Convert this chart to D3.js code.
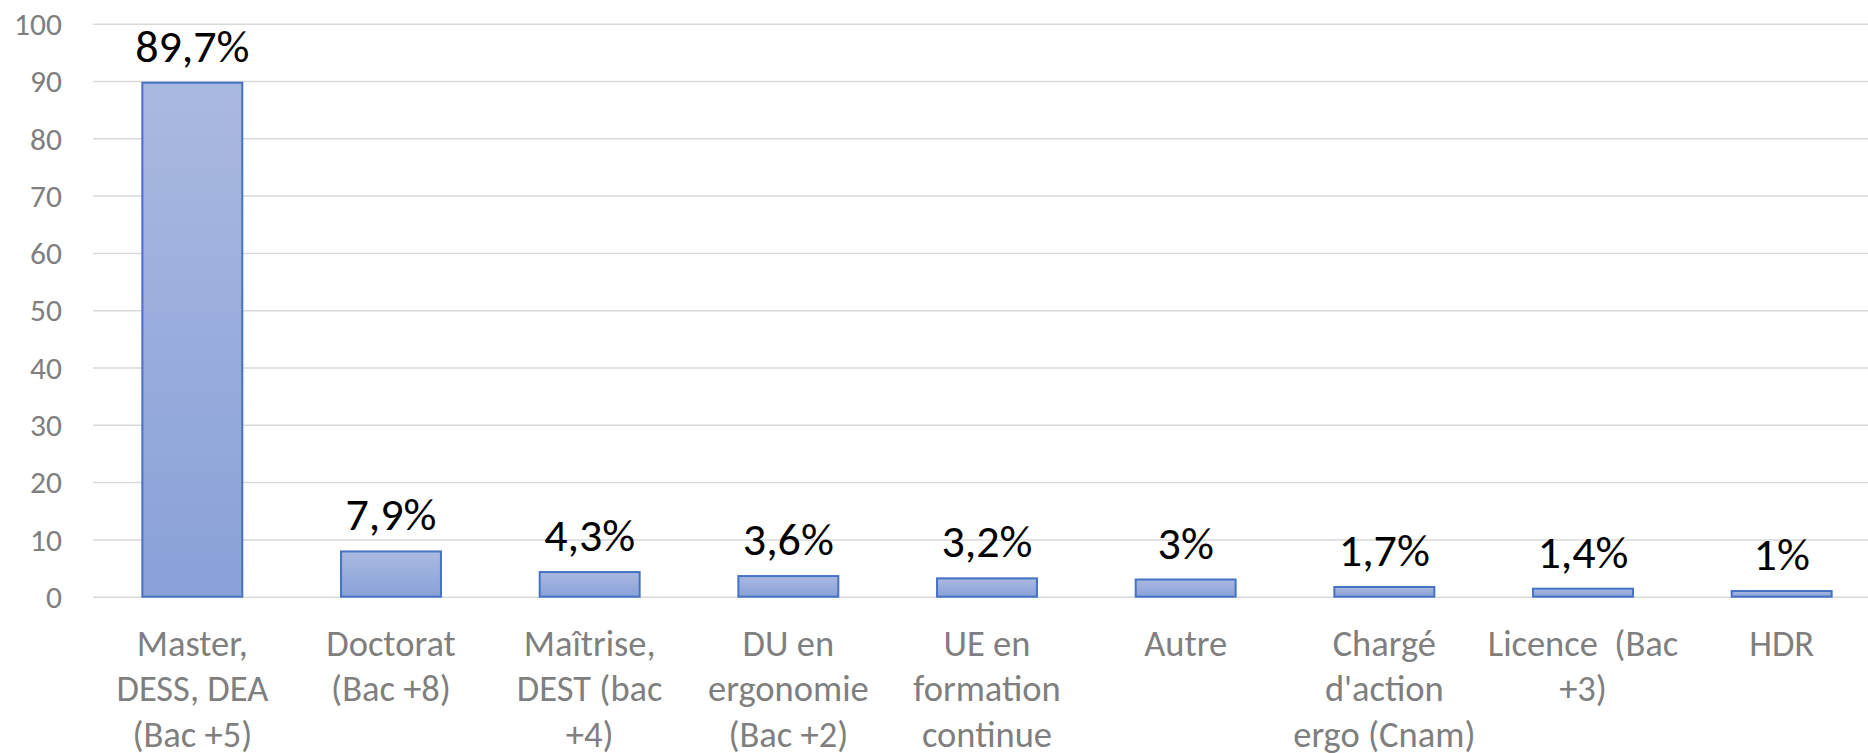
<!DOCTYPE html>
<html>
<head>
<meta charset="utf-8">
<script src="https://cdn.jsdelivr.net/npm/d3@7"></script>
<style>
  html, body { margin: 0; padding: 0; background: #fff; }
  svg { display: block; }
  text { font-family: Carlito, Calibri, Lato, "Open Sans", sans-serif; }
</style>
</head>
<body>
<svg id="chart" width="1868" height="753"></svg>
<script>
// ---- data ----
const categories = [
  "Master,\nDESS, DEA\n(Bac +5)",
  "Doctorat\n(Bac +8)",
  "Maîtrise,\nDEST (bac\n+4)",
  "DU en\nergonomie\n(Bac +2)",
  "UE en\nformation\ncontinue",
  "Autre",
  "Chargé\nd'action\nergo (Cnam)",
  "Licence  (Bac\n+3)",
  "HDR"
];
const values = [89.7, 7.9, 4.3, 3.6, 3.2, 3, 1.7, 1.4, 1];
const valueLabels = ["89,7%", "7,9%", "4,3%", "3,6%", "3,2%", "3%", "1,7%", "1,4%", "1%"];
const yTicks = [0, 10, 20, 30, 40, 50, 60, 70, 80, 90, 100];

// ---- layout ----
const W = 1868, H = 753;
const plot = { left: 93, right: 1881, top: 23.7, bottom: 596.7 };

const svg = d3.select("#chart");

const x = d3.scaleBand()
  .domain(categories)
  .range([plot.left, plot.right])
  .paddingInner(0.497)
  .paddingOuter(0.2485);

const y = d3.scaleLinear()
  .domain([0, 100])
  .range([plot.bottom, plot.top]);

// gradient
const defs = svg.append("defs");
const grad = defs.append("linearGradient")
  .attr("id", "barGrad")
  .attr("x1", 0).attr("y1", 0).attr("x2", 0).attr("y2", 1);
grad.append("stop").attr("offset", "0%").attr("stop-color", "#AAB9E1");
grad.append("stop").attr("offset", "100%").attr("stop-color", "#89A1D8");

// gridlines
const yAxisGrid = d3.axisLeft(y)
  .tickValues(yTicks)
  .tickSize(-(plot.right - plot.left))
  .tickFormat("");
svg.append("g")
  .attr("transform", `translate(${plot.left},0)`)
  .call(yAxisGrid)
  .call(g => g.select(".domain").remove())
  .call(g => g.selectAll(".tick line").attr("stroke", "#D9D9D9").attr("stroke-width", 1.5));

// y tick labels
const yAxis = d3.axisLeft(y)
  .tickValues(yTicks)
  .tickSize(0)
  .tickPadding(0)
  .tickFormat(d3.format("d"));
svg.append("g")
  .attr("transform", `translate(62,0)`)
  .call(yAxis)
  .call(g => g.select(".domain").remove())
  .call(g => g.selectAll(".tick text")
    .attr("fill", "#7F7F7F")
    .attr("font-size", 31.5)
    .attr("font-family", null)
    .attr("dy", "0.34em"));

// bars
svg.append("g").selectAll("rect")
  .data(values)
  .join("rect")
  .attr("x", (d, i) => x(categories[i]))
  .attr("width", x.bandwidth())
  .attr("y", d => y(d))
  .attr("height", d => y(0) - y(d))
  .attr("fill", "url(#barGrad)")
  .attr("stroke", "#4472C4")
  .attr("stroke-width", 2);

// value labels
svg.append("g").selectAll("text")
  .data(values)
  .join("text")
  .attr("x", (d, i) => x(categories[i]) + x.bandwidth() / 2)
  .attr("y", d => y(d) - 21)
  .attr("text-anchor", "middle")
  .attr("font-size", 46)
  .attr("fill", "#000")
  .text((d, i) => valueLabels[i]);

// category labels
const xAxis = d3.axisBottom(x).tickSize(0).tickFormat("");
const xg = svg.append("g")
  .attr("transform", `translate(0,${plot.bottom})`)
  .call(xAxis);
xg.select(".domain").remove();
xg.selectAll(".tick").each(function(d) {
  const t = d3.select(this).append("text")
    .attr("text-anchor", "middle")
    .attr("fill", "#7F7F7F")
    .attr("font-size", 36.5)
    .attr("y", 59.5);
  d.split("\n").forEach((line, k) => {
    t.append("tspan")
      .attr("x", 0)
      .attr("dy", k === 0 ? 0 : 45.3)
      .attr("xml:space", "preserve")
      .style("white-space", "pre")
      .text(line);
  });
});
</script>
</body>
</html>
